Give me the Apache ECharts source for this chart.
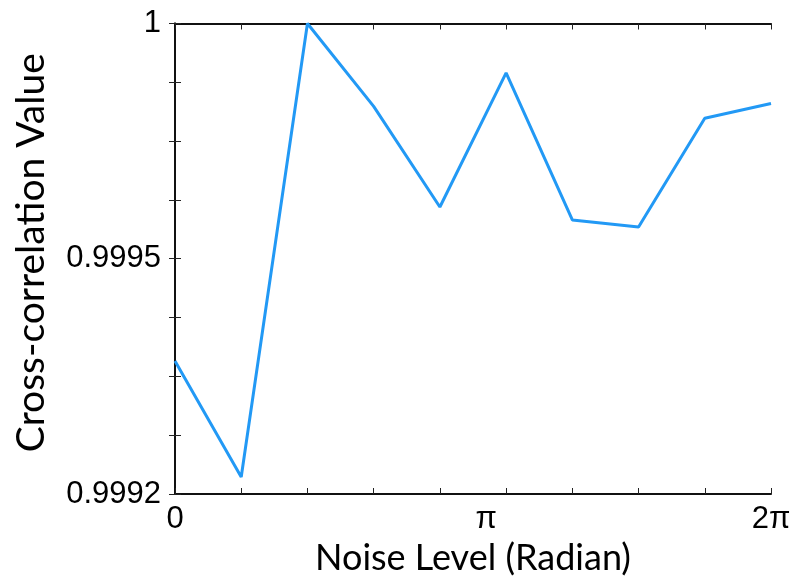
<!DOCTYPE html>
<html>
<head>
<meta charset="utf-8">
<script src="https://cdn.jsdelivr.net/npm/echarts@6/dist/echarts.min.js"></script>
<style>
  html, body { margin: 0; padding: 0; background: #fff; }
  #chart { width: 796px; height: 582px; }
</style>
</head>
<body>
<div id="chart"></div>
<script>
// Noise steps (index along the x axis) and measured cross-correlation
const noiseSteps = [0, 1, 2, 3, 4, 5, 6, 7, 8, 9];
const crossCorr = [0.999426, 0.999229, 1.000000, 0.999859, 0.999688,
                   0.999916, 0.999666, 0.999654, 0.999839, 0.999864];

// Tick labels on the noise axis and where they sit (in step units)
const xTickLabels = ['0', 'π', '2π'];
const xTickLabelPos = [0, 4.7, 9];

// Tick labels on the correlation axis: bottom, middle and top of the scale
const yTickLabels = ['0.9992', '0.9995', '1'];
const yTickLabelPos = [0.9992, 0.9996, 1];

const labelFont = 'Liberation Sans, Arial, sans-serif';
const titleFont = 'Lato, "Open Sans", sans-serif';

function labelAt(positions, texts, v) {
  let best = 0;
  positions.forEach((p, i) => {
    if (Math.abs(p - v) < Math.abs(positions[best] - v)) best = i;
  });
  return Math.abs(positions[best] - v) < 1e-9 + Math.abs(positions[positions.length - 1] - positions[0]) * 1e-3
    ? texts[best] : '';
}

const chart = echarts.init(document.getElementById('chart'), null, { renderer: 'canvas' });

const axisLine = { show: true, lineStyle: { color: '#111', width: 2 } };
const tick = { show: true, inside: true, length: 6, lineStyle: { color: '#222', width: 1 } };

chart.setOption({
  animation: false,
  backgroundColor: '#fff',
  grid: { left: 175, right: 25, top: 23.5, bottom: 88, containLabel: false },
  xAxis: [
    {
      type: 'value', position: 'bottom', min: 0, max: 9, interval: 1,
      axisLine: axisLine, axisTick: tick, splitLine: { show: false },
      axisLabel: {
        customValues: xTickLabelPos,
        formatter: (v) => labelAt(xTickLabelPos, xTickLabels, v),
        color: '#000', fontFamily: labelFont, fontSize: 31, margin: 10
      },
      name: 'Noise Level (Radian)', nameLocation: 'middle', nameGap: 46,
      nameTextStyle: { color: '#000', fontFamily: titleFont, fontSize: 36 }
    },
    {
      type: 'value', position: 'top', min: 0, max: 9, interval: 1,
      axisLine: axisLine, axisTick: tick, axisLabel: { show: false }, splitLine: { show: false }
    }
  ],
  yAxis: [
    {
      type: 'value', position: 'left', min: 0.9992, max: 1, interval: 0.0001,
      axisLine: axisLine, axisTick: tick, splitLine: { show: false },
      axisLabel: {
        customValues: yTickLabelPos,
        formatter: (v) => labelAt(yTickLabelPos, yTickLabels, v),
        color: '#000', fontFamily: labelFont, fontSize: 31, margin: 14
      },
      name: 'Cross-correlation Value', nameLocation: 'middle', nameGap: 124,
      nameTextStyle: { color: '#000', fontFamily: titleFont, fontSize: 39, padding: [0, 0, 0, 12] }
    },
    {
      type: 'value', position: 'right', min: 0.9992, max: 1, interval: 0.0001,
      axisLine: axisLine, axisTick: tick, axisLabel: { show: false }, splitLine: { show: false }
    }
  ],
  series: [{
    type: 'line',
    data: noiseSteps.map((s, i) => [s, crossCorr[i]]),
    showSymbol: false,
    lineStyle: { color: '#2299f5', width: 3 },
    itemStyle: { color: '#2299f5' },
    clip: false
  }]
});
</script>
</body>
</html>
